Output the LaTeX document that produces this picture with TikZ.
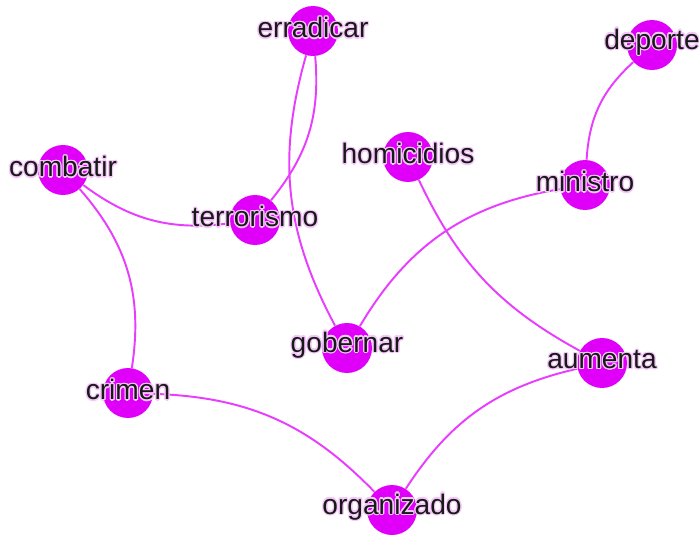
\documentclass[tikz,border=0pt]{standalone}
\usepackage{fontspec}
\setmainfont{Liberation Sans}
\usepackage{tikz}
\usetikzlibrary{backgrounds}
\usepackage{xcolor}
\usepackage{contour}
\contourlength{0.7pt}
\contournumber{16}
\definecolor{vtxfill}{RGB}{224,0,250}
\definecolor{edgecol}{RGB}{232,60,255}
\definecolor{halo}{RGB}{245,200,250}

\begin{document}
\begin{tikzpicture}[
x=0.02cm,y=-0.02cm,
vtx/.style={circle,fill=vtxfill,minimum size=1cm,inner sep=0pt,
  label={[text=black!90,font=\fontsize{16}{18}\selectfont,yshift=1.5pt]center:\contour{halo}{#1}}},
lnk/.style={draw=edgecol,line width=1.1pt}
]
\useasboundingbox (0,0) rectangle (699,537);

\node[vtx=erradicar] (erradicar) at (313,31) {};
\node[vtx=deporte] (deporte) at (652,45) {};
\node[vtx=combatir] (combatir) at (63,170) {};
\node[vtx=homicidios] (homicidios) at (408,157) {};
\node[vtx=ministro] (ministro) at (585,185) {};
\node[vtx=terrorismo] (terrorismo) at (255,220) {};
\node[vtx=gobernar] (gobernar) at (347,348) {};
\node[vtx=aumenta] (aumenta) at (602,363) {};
\node[vtx=crimen] (crimen) at (128,393) {};
\node[vtx=organizado] (organizado) at (392,510) {};

\begin{scope}[on background layer]
\draw[lnk] (combatir) to[bend right=22] (terrorismo);
\draw[lnk] (combatir) to[bend left=25] (crimen);
\draw[lnk] (erradicar) to[bend left=22] (terrorismo);
\draw[lnk] (erradicar) to[bend right=22] (gobernar);
\draw[lnk] (homicidios) to[bend right=18] (aumenta);
\draw[lnk] (ministro) to[bend right=25] (gobernar);
\draw[lnk] (deporte) to[bend right=22] (ministro);
\draw[lnk] (crimen) to[bend left=22] (organizado);
\draw[lnk] (aumenta) to[bend right=22] (organizado);
\end{scope}
\end{tikzpicture}
\end{document}
